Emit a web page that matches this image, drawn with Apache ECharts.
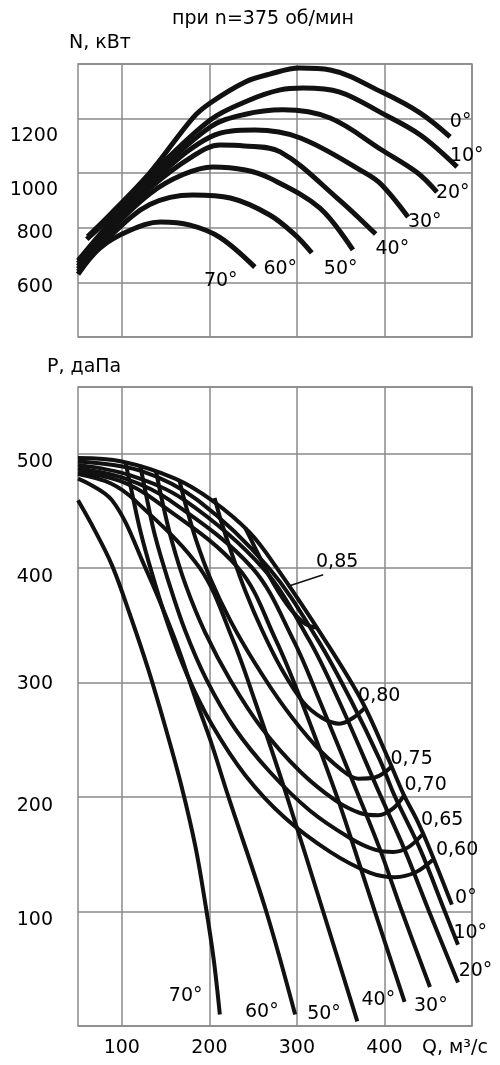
<!DOCTYPE html>
<html>
<head>
<meta charset="utf-8">
<script src="https://cdn.jsdelivr.net/npm/echarts@6/dist/echarts.min.js"></script>
<style>html,body{margin:0;padding:0;background:#fff}#c{width:500px;height:1065px}</style>
</head>
<body>
<div id="c"></div>
<script>
// ---------- tick labels ----------
const xLabels = [100, 200, 300, 400];
const topYLabels = [600, 800, 1000, 1200];
const bottomYLabels = [100, 200, 300, 400, 500];

// ---------- upper chart: N (kW) vs Q, per blade angle ----------
const N_0  = [[61,768],[87,850],[132,1001],[181,1202],[201,1257],[241,1334],[269,1363],[303,1385],[338,1378],[397,1297],[441,1220],[475,1133]];
const N_10 = [[60,758],[87,840],[132,990],[201,1195],[246,1268],[281,1305],[307,1312],[349,1297],[397,1220],[441,1140],[483,1023]];
const N_20 = [[50,680],[87,820],[132,975],[201,1169],[240,1215],[284,1232],[338,1202],[397,1085],[438,1001],[460,931]];
const N_30 = [[50,670],[87,810],[132,960],[201,1133],[252,1158],[304,1129],[378,1001],[397,957],[427,840]];
const N_40 = [[50,660],[87,800],[132,945],[180,1060],[212,1103],[240,1100],[281,1078],[346,909],[390,777]];
const N_50 = [[50,650],[87,790],[132,925],[170,995],[204,1023],[241,1012],[269,982],[326,873],[364,719]];
const N_60 = [[50,640],[87,770],[132,885],[181,920],[224,909],[269,847],[298,774],[317,708]];
const N_70 = [[50,630],[75,726],[109,790],[144,821],[178,810],[212,765],[252,656]];
const topCurveLabels = [['0°',487,1188],['10°',494,1063],['20°',478,927],['30°',446,821],['40°',409,722],['50°',350,649],['60°',281,649],['70°',213,605]];

// ---------- lower chart: P (daPa) vs Q, per blade angle ----------
const P_0  = [[50,496],[100,493],[161,478],[203,459],[246,431],[277,400],[332,337],[374,284],[404,234],[422,202],[437,180],[452,154],[477,106]];
const P_10 = [[50,493],[121,485],[187,459],[268,400],[324,337],[362,284],[395,232],[411,202],[441,154],[469,100],[484,71]];
const P_20 = [[50,490],[109,481],[172,459],[261,400],[314,337],[348,284],[395,202],[423,154],[451,100],[484,38]];
const P_30 = [[50,487],[104,478],[155,459],[249,400],[296,337],[326,284],[370,202],[395,154],[420,100],[452,34]];
const P_40 = [[50,484],[98,476],[138,459],[233,400],[276,337],[305,284],[345,202],[366,154],[389,100],[423,21]];
const P_50 = [[50,482],[87,474],[115,459],[189,400],[227,337],[252,284],[288,202],[330,100],[369,4]];
const P_60 = [[50,478],[89,459],[127,400],[161,337],[185,284],[201,250],[221,202],[265,100],[298,10]];
const P_70 = [[50,459],[69,433],[89,402],[109,360],[130,312],[149,263],[168,210],[184,157],[196,104],[205,58],[212,10]];

// efficiency iso-lines
const E_60 = [[104,493],[111,468],[121,433],[135,394],[153,350],[175,306],[203,263],[241,219],[286,182],[338,152],[383,134],[412,130],[435,134],[455,145]];
const E_65 = [[121,490],[128,463],[138,428],[153,389],[172,346],[197,302],[229,260],[269,222],[315,188],[361,164],[389,154],[410,152],[427,156],[443,167]];
const E_70 = [[139,485],[146,459],[157,424],[173,385],[195,344],[224,302],[260,260],[304,222],[344,197],[372,186],[393,184],[410,190],[423,202]];
const E_75 = [[166,476],[173,455],[185,424],[201,391],[224,354],[252,317],[286,278],[321,245],[349,225],[370,216],[389,217],[409,227]];
const E_80 = [[206,461],[213,442],[225,414],[241,380],[260,346],[283,311],[307,283],[329,269],[349,264],[364,269],[378,278]];
const E_85 = [[241,435],[252,418],[265,398],[280,378],[295,362],[310,351],[322,348]];
const E_85_leader = [[290,384],[330,394]];
const bottomCurveLabels = [['0,85',346,405],['0,80',394,288],['0,75',431,233],['0,70',447,210],['0,65',466,180],['0,60',483,154],
  ['0°',493,112],['10°',498,81],['20°',504,48],['30°',453,17],['40°',393,23],['50°',331,10],['60°',260,12],['70°',173,26]];

// ---------- styling ----------
const FONT = 'DejaVu Sans';
const INK = '#000';
const LINE = '#111';
const GRID = '#8a8a8a';

function curve(data, gi, w) {
  return { type: 'line', data: data, xAxisIndex: gi, yAxisIndex: gi, smooth: 0.35,
    symbol: 'none', lineStyle: { color: LINE, width: w }, z: 3, silent: true };
}
function labels(list, gi) {
  return { type: 'scatter', xAxisIndex: gi, yAxisIndex: gi, symbolSize: 0, clip: false, silent: true, z: 5,
    itemStyle: { color: '#000', opacity: 1 },
    data: list.map(d => [d[1], d[2], d[0]]),
    label: { show: true, position: 'inside', formatter: p => p.data[2], color: INK, opacity: 1,
      textBorderWidth: 0, textBorderColor: 'transparent', fontSize: 19, fontFamily: FONT } };
}
const xCommon = {
  type: 'value', min: 50, max: 500, interval: 50,
  axisLine: { show: false }, axisTick: { show: false },
  splitLine: { show: true, lineStyle: { color: ['rgba(0,0,0,0)', GRID], width: 1.5 } }
};

const option = {
  animation: false,
  backgroundColor: '#fff',
  textStyle: { fontFamily: FONT },
  title: [
    { text: 'при n=375 об/мин', left: 172, top: 10, padding: 0, textStyle: { fontSize: 19, fontWeight: 'normal', fontFamily: FONT, color: INK } },
    { text: 'N, кВт', left: 69, top: 34, padding: 0, textStyle: { fontSize: 19, fontWeight: 'normal', fontFamily: FONT, color: INK } },
    { text: 'P, даПа', left: 47, top: 358, padding: 0, textStyle: { fontSize: 19, fontWeight: 'normal', fontFamily: FONT, color: INK } }
  ],
  grid: [
    { left: 78, top: 64, width: 394, height: 273, show: true, borderColor: GRID, borderWidth: 1.5 },
    { left: 78, top: 387, width: 394, height: 639, show: true, borderColor: GRID, borderWidth: 1.5 }
  ],
  xAxis: [
    Object.assign({}, xCommon, { gridIndex: 0, axisLabel: { show: false } }),
    Object.assign({}, xCommon, { gridIndex: 1,
      axisLabel: { show: true, margin: 13, color: INK, fontSize: 19, fontFamily: FONT,
        formatter: v => xLabels.includes(v) ? String(v) : '' },
      name: 'Q, м³/с', nameLocation: 'end', nameGap: -50,
      nameTextStyle: { color: INK, fontSize: 19, fontFamily: FONT, align: 'left', verticalAlign: 'top', padding: [13, 0, 0, 0] } })
  ],
  yAxis: [
    { type: 'value', gridIndex: 0, min: 400, max: 1400, interval: 200,
      axisLine: { show: false }, axisTick: { show: false },
      splitLine: { show: true, lineStyle: { color: GRID, width: 1.5 } },
      axisLabel: { margin: 20, color: INK, fontSize: 19, fontFamily: FONT,
        formatter: v => topYLabels.includes(v) ? (v >= 1000 ? '{lo|' + v + '}' : '{hi|' + v + '}') : '',
        rich: { lo: { padding: [34, 0, 0, 0], fontSize: 19, fontFamily: FONT, color: INK },
                hi: { padding: [10, 5, 0, 0], fontSize: 19, fontFamily: FONT, color: INK } } } },
    { type: 'value', gridIndex: 1, min: 0, max: 558, interval: 100,
      axisLine: { show: false }, axisTick: { show: false },
      splitLine: { show: true, lineStyle: { color: GRID, width: 1.5 } },
      axisLabel: { margin: 25, color: INK, fontSize: 19, fontFamily: FONT,
        formatter: v => bottomYLabels.includes(v) ? (v === 300 ? '{c|' + v + '}' : '{b|' + v + '}') : '',
        rich: { b: { padding: [18, 0, 0, 0], fontSize: 19, fontFamily: FONT, color: INK },
                c: { padding: [4, 0, 0, 0], fontSize: 19, fontFamily: FONT, color: INK } } } }
  ],
  series: [
    curve(N_0, 0, 5), curve(N_10, 0, 5), curve(N_20, 0, 5), curve(N_30, 0, 5),
    curve(N_40, 0, 5), curve(N_50, 0, 5), curve(N_60, 0, 5), curve(N_70, 0, 5),
    labels(topCurveLabels, 0),
    curve(P_0, 1, 4), curve(P_10, 1, 4), curve(P_20, 1, 4), curve(P_30, 1, 4),
    curve(P_40, 1, 4), curve(P_50, 1, 4), curve(P_60, 1, 4), curve(P_70, 1, 4),
    curve(E_60, 1, 4), curve(E_65, 1, 4), curve(E_70, 1, 4), curve(E_75, 1, 4), curve(E_80, 1, 4), curve(E_85, 1, 4),
    { type: 'line', data: E_85_leader, xAxisIndex: 1, yAxisIndex: 1, symbol: 'none', silent: true,
      lineStyle: { color: LINE, width: 1.5 }, z: 4 },
    labels(bottomCurveLabels, 1)
  ]
};
const chart = echarts.init(document.getElementById('c'), null, { renderer: 'canvas' });
chart.setOption(option);
</script>
</body>
</html>
